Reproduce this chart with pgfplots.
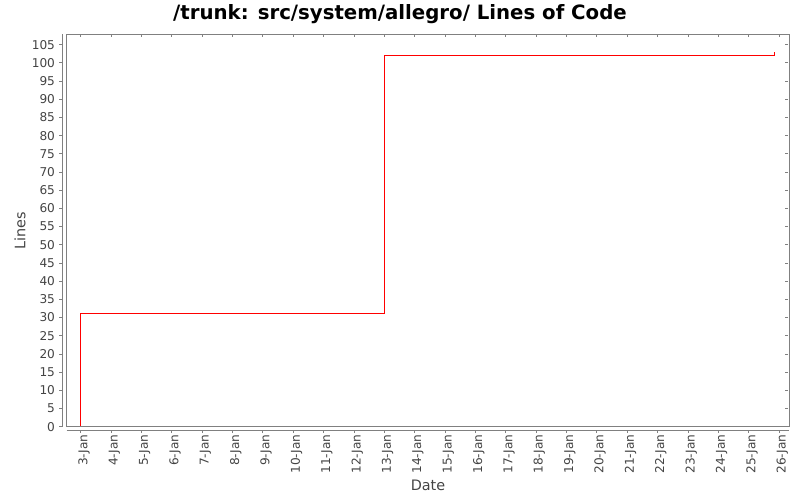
\documentclass[border=0pt]{standalone}
\usepackage{pgfplots}
\pgfplotsset{compat=1.18}
\usepackage{fontspec}
\setmainfont{DejaVu Sans}
\definecolor{boxgray}{HTML}{808080}
\definecolor{txtgray}{HTML}{444444}
\begin{document}
\begin{tikzpicture}
\begin{axis}[
  name=ax,
  scale only axis,
  width=542pt, height=294.5pt,
  xmin=2.539, xmax=26.34,
  ymin=0, ymax=107.9,
  axis line style={draw=none},
  xtick={3,...,26},
  xticklabels={3-Jan,4-Jan,5-Jan,6-Jan,7-Jan,8-Jan,9-Jan,10-Jan,11-Jan,12-Jan,13-Jan,14-Jan,15-Jan,16-Jan,17-Jan,18-Jan,19-Jan,20-Jan,21-Jan,22-Jan,23-Jan,24-Jan,25-Jan,26-Jan},
  ytick={0,5,...,105},
  tick align=outside,
  major tick length=2.25pt,
  tick style={boxgray, line width=0.6pt},
  xtick style={yshift=-2.5pt},
  ytick style={xshift=-3.3pt},
  /pgf/number format/assume math mode=true,
  xticklabel style={rotate=90, anchor=east, font=\fontsize{9.1}{10}\selectfont, text=txtgray, yshift=-2.5pt},
  yticklabel style={font=\fontsize{9.1}{10}\selectfont, text=txtgray, xshift=-3pt},
]
\addplot[red, line width=0.75pt] coordinates {
  (3,0) (3,31) (13.0,31) (13.0,102) (25.84,102) (25.84,103)
};
\end{axis}
\draw[boxgray, line width=0.75pt] (ax.south west) rectangle (ax.north east);
\draw[boxgray, line width=0.6pt] ([xshift=-3.3pt]ax.south west) -- ([xshift=-3.3pt]ax.north west);
\draw[boxgray, line width=0.6pt] ([yshift=-2.5pt]ax.south west) -- ([yshift=-2.5pt]ax.south east);
\node[font=\bfseries\fontsize{14.8}{16}\selectfont] at ([shift={(250pt,309.5pt)}]ax.south west) {/trunk: src/system/allegro/ Lines of Code};
\node[font=\fontsize{10.8}{12}\selectfont, text=txtgray] at ([shift={(271pt,-44.2pt)}]ax.south west) {Date};
\node[font=\fontsize{10.8}{12}\selectfont, text=txtgray, rotate=90] at ([shift={(-35pt,147pt)}]ax.south west) {Lines};
\path ([shift={(-50pt,-55.5pt)}]ax.south west) rectangle ++(600pt,375pt);
\end{tikzpicture}
\end{document}
